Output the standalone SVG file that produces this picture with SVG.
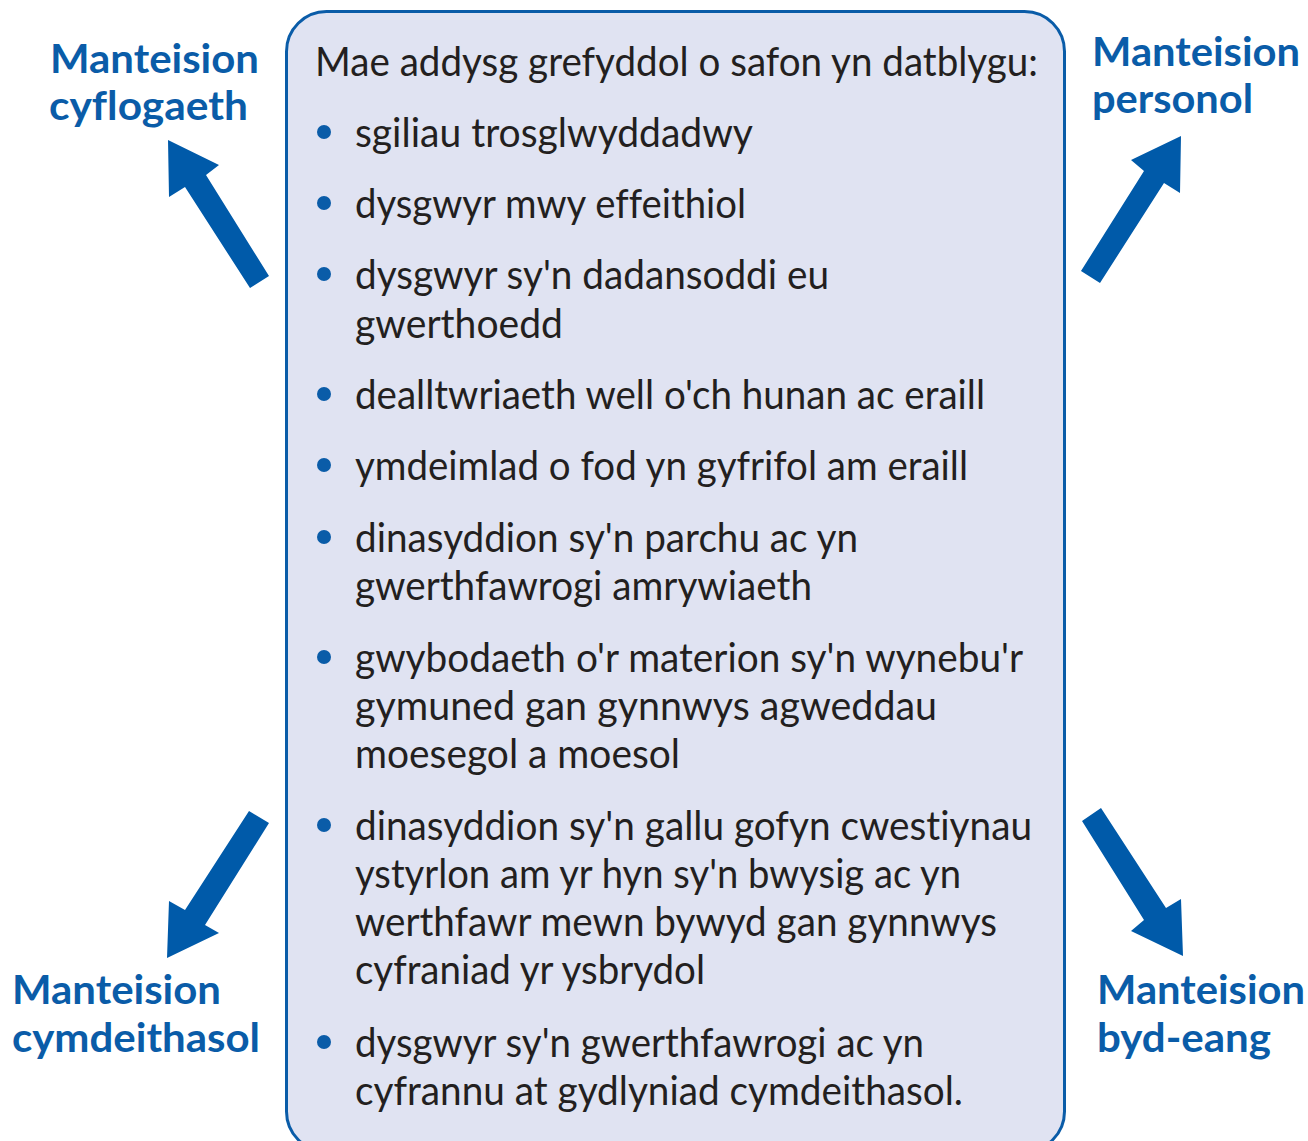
<svg xmlns="http://www.w3.org/2000/svg" width="1308" height="1141" viewBox="0 0 1308 1141">
<style>
.t{font-family:Lato,"Open Sans","Liberation Sans",sans-serif;font-size:41px;fill:#231f20;font-variant-ligatures:none}
.l{font-family:Lato,"Open Sans","Liberation Sans",sans-serif;font-size:41px;font-weight:bold;fill:#0a5ca8;font-variant-ligatures:none}
.b{fill:#0a5ca8}
.a{fill:#005aa9}
</style>
<rect width="1308" height="1141" fill="#ffffff"/>
<g id="box">
<rect x="286.5" y="11.5" width="778" height="1140" rx="40" ry="40" fill="#e0e3f2" stroke="#0a5ca8" stroke-width="3"/>
<text class="t" x="315" y="75.5" textLength="723" lengthAdjust="spacingAndGlyphs">Mae addysg grefyddol o safon yn datblygu:</text>
<circle class="b" cx="324" cy="132" r="7"/>
<text class="t" x="355" y="146.5" textLength="398" lengthAdjust="spacingAndGlyphs">sgiliau trosglwyddadwy</text>
<circle class="b" cx="324" cy="203" r="7"/>
<text class="t" x="355" y="217.5" textLength="391" lengthAdjust="spacingAndGlyphs">dysgwyr mwy effeithiol</text>
<circle class="b" cx="324" cy="274" r="7"/>
<text class="t" x="355" y="288.5" textLength="474" lengthAdjust="spacingAndGlyphs">dysgwyr sy'n dadansoddi eu</text>
<text class="t" x="355" y="337.5" textLength="208" lengthAdjust="spacingAndGlyphs">gwerthoedd</text>
<circle class="b" cx="324" cy="394" r="7"/>
<text class="t" x="355" y="408.5" textLength="630" lengthAdjust="spacingAndGlyphs">dealltwriaeth well o'ch hunan ac eraill</text>
<circle class="b" cx="324" cy="465" r="7"/>
<text class="t" x="355" y="479.5" textLength="613" lengthAdjust="spacingAndGlyphs">ymdeimlad o fod yn gyfrifol am eraill</text>
<circle class="b" cx="324" cy="537" r="7"/>
<text class="t" x="355" y="551.5" textLength="503" lengthAdjust="spacingAndGlyphs">dinasyddion sy'n parchu ac yn</text>
<text class="t" x="355" y="599.5" textLength="457" lengthAdjust="spacingAndGlyphs">gwerthfawrogi amrywiaeth</text>
<circle class="b" cx="324" cy="657" r="7"/>
<text class="t" x="355" y="671.5" textLength="668" lengthAdjust="spacingAndGlyphs">gwybodaeth o'r materion sy'n wynebu'r</text>
<text class="t" x="355" y="719.5" textLength="582" lengthAdjust="spacingAndGlyphs">gymuned gan gynnwys agweddau</text>
<text class="t" x="355" y="767.5" textLength="325" lengthAdjust="spacingAndGlyphs">moesegol a moesol</text>
<circle class="b" cx="324" cy="825" r="7"/>
<text class="t" x="355" y="839.5" textLength="677" lengthAdjust="spacingAndGlyphs">dinasyddion sy'n gallu gofyn cwestiynau</text>
<text class="t" x="355" y="887.5" textLength="606" lengthAdjust="spacingAndGlyphs">ystyrlon am yr hyn sy'n bwysig ac yn</text>
<text class="t" x="355" y="935.5" textLength="642" lengthAdjust="spacingAndGlyphs">werthfawr mewn bywyd gan gynnwys</text>
<text class="t" x="355" y="983.5" textLength="350" lengthAdjust="spacingAndGlyphs">cyfraniad yr ysbrydol</text>
<circle class="b" cx="324" cy="1042" r="7"/>
<text class="t" x="355" y="1056.5" textLength="569" lengthAdjust="spacingAndGlyphs">dysgwyr sy'n gwerthfawrogi ac yn</text>
<text class="t" x="355" y="1104.5" textLength="608" lengthAdjust="spacingAndGlyphs">cyfrannu at gydlyniad cymdeithasol.</text>
</g>
<g id="label-cyflogaeth">
<text class="l" x="50" y="72.5" textLength="209" lengthAdjust="spacingAndGlyphs">Manteision</text>
<text class="l" x="49" y="119.5" textLength="199" lengthAdjust="spacingAndGlyphs">cyflogaeth</text>
</g>
<g id="label-personol">
<text class="l" x="1092" y="66" textLength="208" lengthAdjust="spacingAndGlyphs">Manteision</text>
<text class="l" x="1092" y="113" textLength="161" lengthAdjust="spacingAndGlyphs">personol</text>
</g>
<g id="label-cymdeithasol">
<text class="l" x="12" y="1004" textLength="209" lengthAdjust="spacingAndGlyphs">Manteision</text>
<text class="l" x="12" y="1052" textLength="248" lengthAdjust="spacingAndGlyphs">cymdeithasol</text>
</g>
<g id="label-byd-eang">
<text class="l" x="1097" y="1004" textLength="208" lengthAdjust="spacingAndGlyphs">Manteision</text>
<text class="l" x="1097" y="1052" textLength="174" lengthAdjust="spacingAndGlyphs">byd-eang</text>
</g>
<g id="connectors">
<polygon class="a" points="168,140 169,197 185,187 250,288 269,276 206,175 219,165"/>
<polygon class="a" points="1181,136 1180,193 1164,183 1100,283 1081,271 1144,171 1131,160"/>
<polygon class="a" points="167,958 169,901 185,910 249,811 269,823 205,925 219,933"/>
<polygon class="a" points="1183,956 1181,899 1166,908 1101,808 1082,821 1144,920 1131,931"/>
</g>
</svg>
